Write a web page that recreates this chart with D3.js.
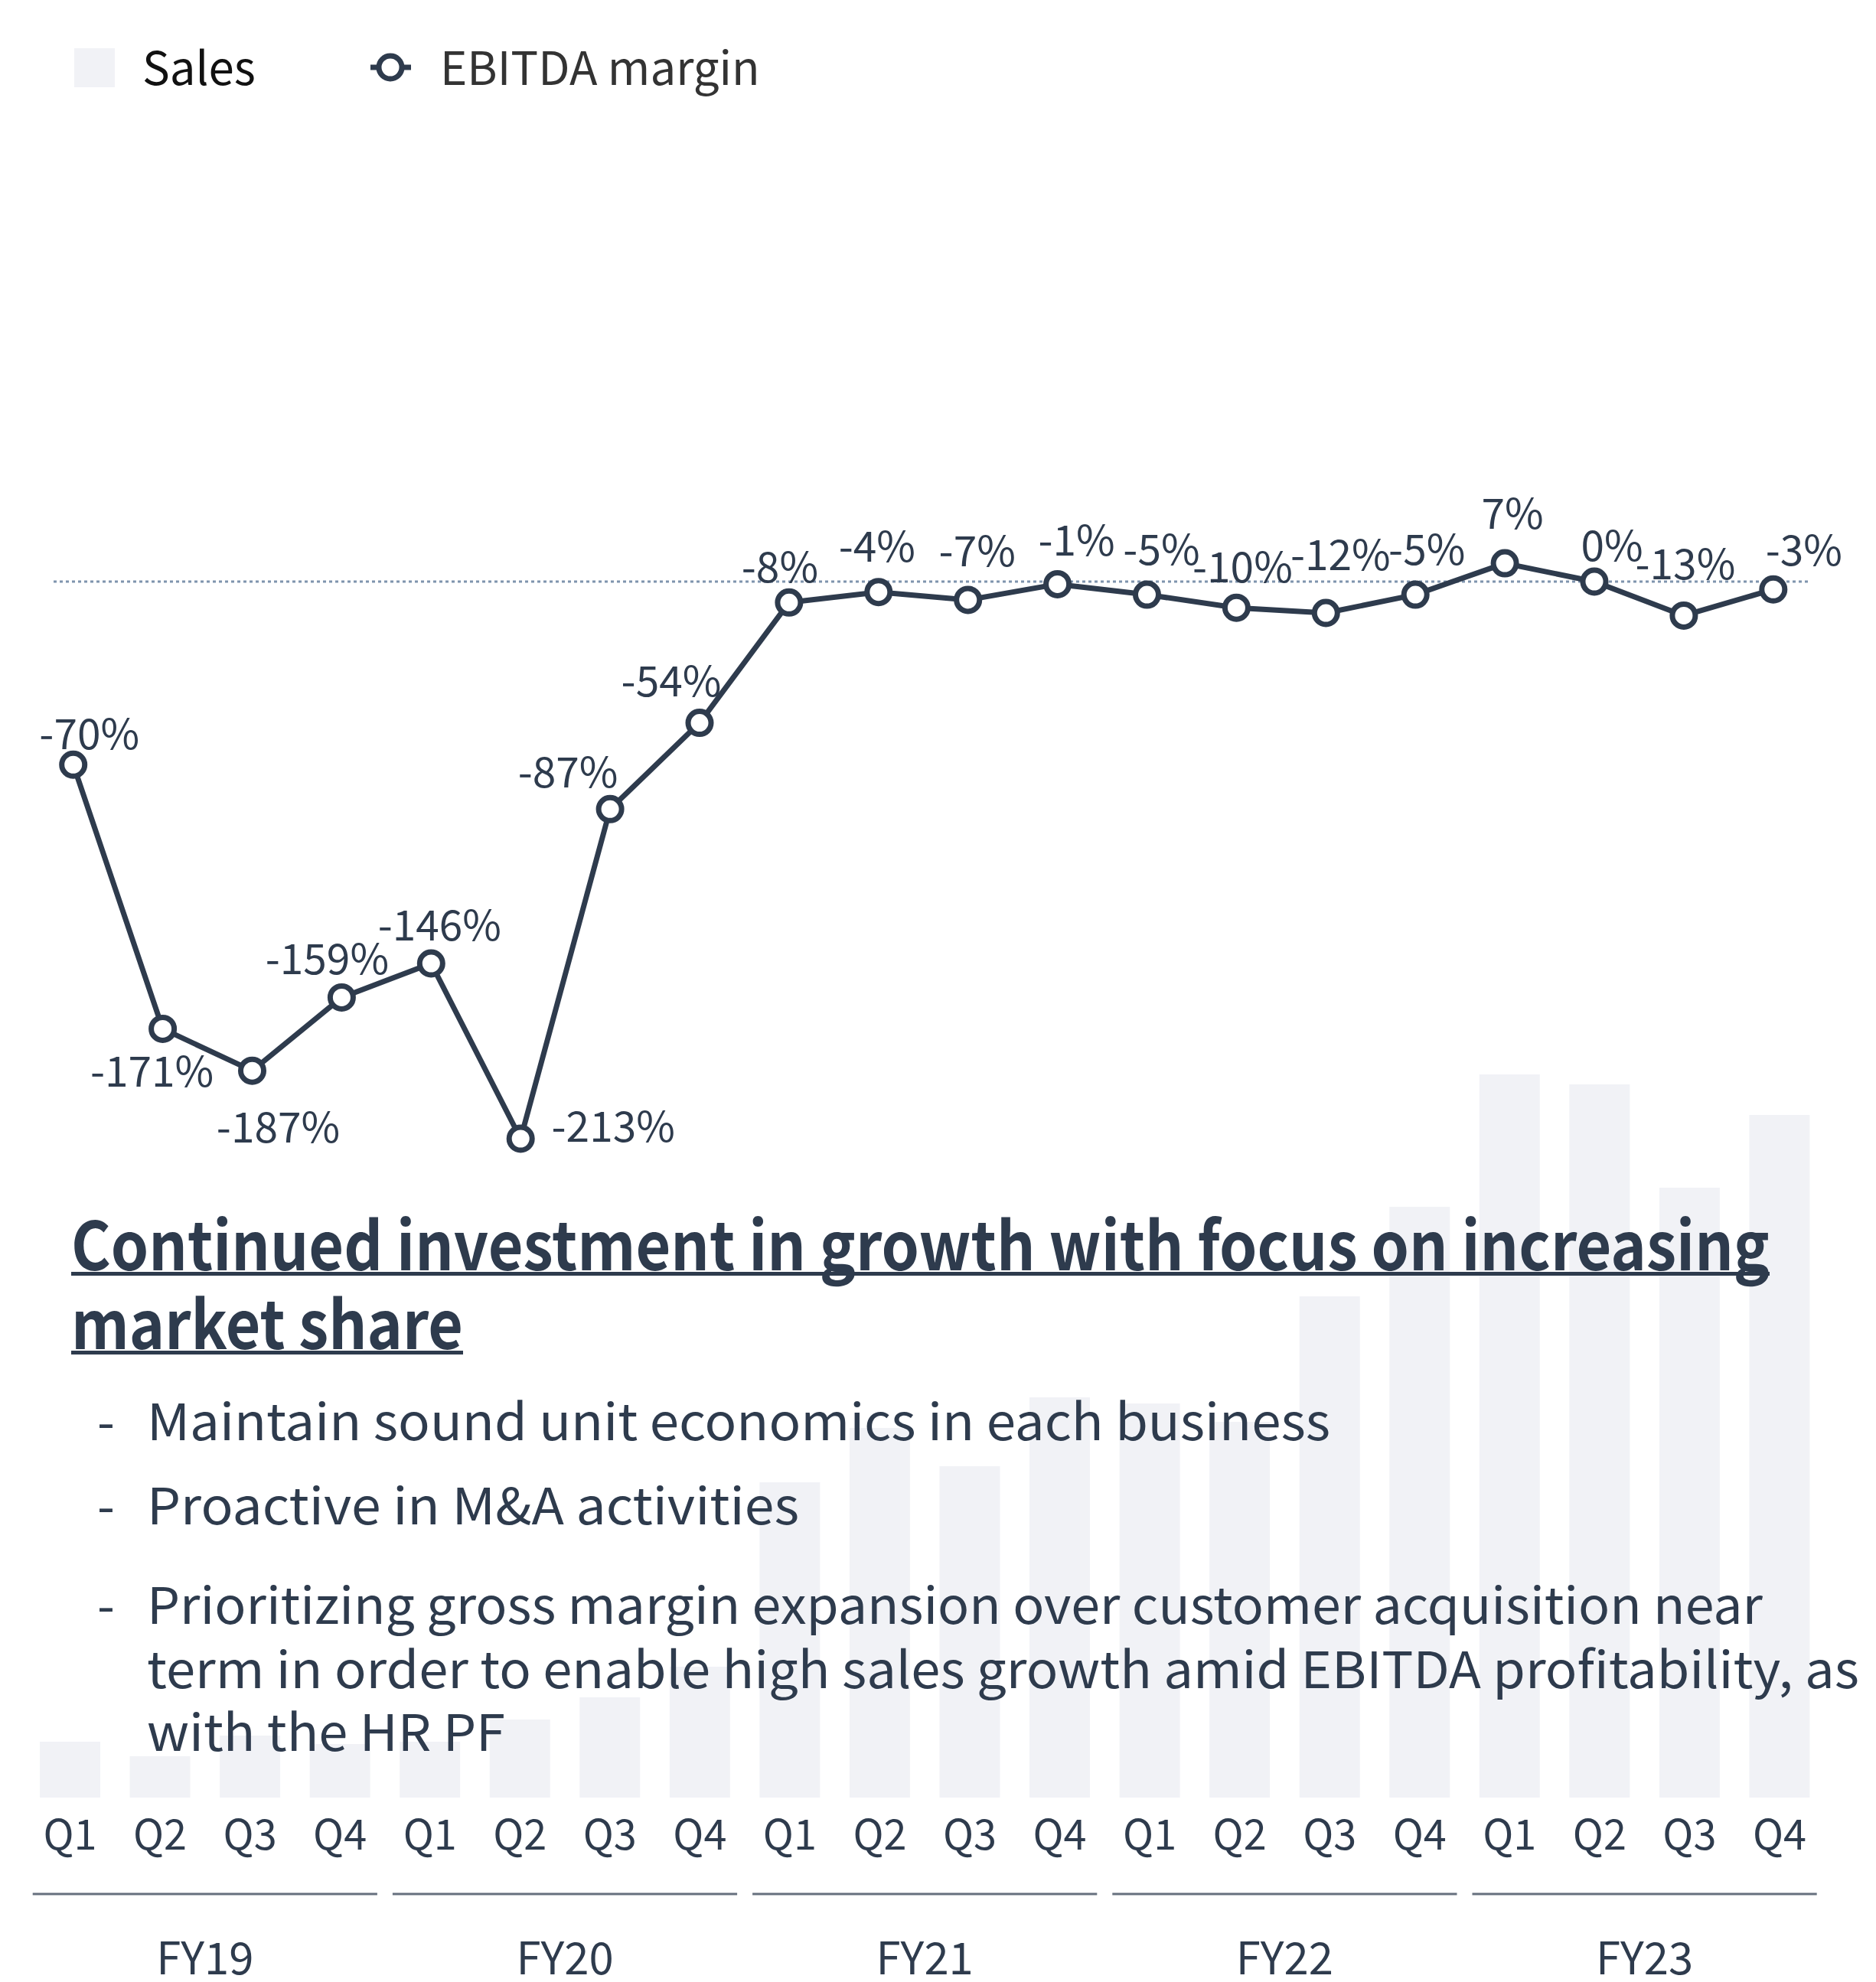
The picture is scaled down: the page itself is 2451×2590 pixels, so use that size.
<!DOCTYPE html>
<html>
<head>
<meta charset="utf-8">
<script src="https://cdn.jsdelivr.net/npm/d3@7"></script>
<style>
  body { margin: 0; background: #ffffff; }
  svg { display: block; }
</style>
</head>
<body>
<svg id="chart" width="2451" height="2590"></svg>
<script>
// ---- data ----
const fiscalYears = ["FY19", "FY20", "FY21", "FY22", "FY23"];
const quarters = ["Q1", "Q2", "Q3", "Q4"];
// quarterly sales (relative index, no axis shown)
const sales = [7.3, 5.4, 8.1, 7.0, 7.3, 10.2, 13.1, 17.1, 41.2, 48.3,
               43.3, 52.3, 51.5, 49.1, 65.5, 77.2, 94.5, 93.2, 79.7, 89.2];
// quarterly EBITDA margin, %
const ebitdaMargin = [-70, -171, -187, -159, -146, -213, -87, -54, -8, -4,
                      -7, -1, -5, -10, -12, -5, 7, 0, -13, -3];
const legendLabels = ["Sales", "EBITDA margin"];
const headline = ["Continued investment in growth with focus on increasing", "market share"];
const bullets = [
  ["Maintain sound unit economics in each business"],
  ["Proactive in M&A activities"],
  ["Prioritizing gross margin expansion over customer acquisition near",
   "term in order to enable high sales growth amid EBITDA profitability, as",
   "with the HR PF"]
];

// ---- layout ----
const FONT = "'Noto Sans CJK JP', 'Noto Sans', sans-serif";
const INK = "#2e3b4d";
const BAR = "#f1f2f6";

const periods = [];
fiscalYears.forEach(fy => quarters.forEach(q => periods.push({ fy, q, key: fy + q })));
const data = periods.map((p, i) => ({ ...p, i, sales: sales[i], margin: ebitdaMargin[i] }));

const svg = d3.select("#chart");

const xBar = d3.scaleBand()
  .domain(data.map(d => d.key))
  .range([32.7, 2383.7])
  .paddingInner(0.328)
  .paddingOuter(0.164);

const xLine = d3.scalePoint()
  .domain(data.map(d => d.key))
  .range([95.7, 2316.8]);

const ySales = d3.scaleLinear().domain([0, 100]).range([2349, 1349]);
const yMargin = d3.scaleLinear().domain([-213, 0]).range([1488, 760]);

// ---- bars ----
svg.append("g").selectAll("rect")
  .data(data)
  .join("rect")
  .attr("x", d => xBar(d.key))
  .attr("width", xBar.bandwidth())
  .attr("y", d => ySales(d.sales))
  .attr("height", d => ySales(0) - ySales(d.sales))
  .attr("fill", BAR);

// ---- quarter axis ----
const xAxis = d3.axisBottom(xBar)
  .tickSize(0)
  .tickPadding(0)
  .tickFormat(k => data.find(d => d.key === k).q);
const axisG = svg.append("g")
  .attr("transform", "translate(0,2417)")
  .call(xAxis);
axisG.select(".domain").remove();
axisG.selectAll("text")
  .attr("dy", 0)
  .attr("y", 0)
  .attr("font-family", FONT)
  .attr("font-size", 54)
  .attr("fill", INK);

// ---- fiscal year groups ----
const yearG = svg.append("g");
fiscalYears.forEach(fy => {
  const keys = data.filter(d => d.fy === fy).map(d => d.key);
  const x0 = xBar(keys[0]) - xBar.step() * xBar.paddingInner() / 2 + 10;
  const x1 = xBar(keys[keys.length - 1]) + xBar.bandwidth() + xBar.step() * xBar.paddingInner() / 2 - 10;
  yearG.append("line")
    .attr("x1", x0).attr("x2", x1)
    .attr("y1", 2475).attr("y2", 2475)
    .attr("stroke", "#66707e").attr("stroke-width", 3);
  yearG.append("text")
    .attr("x", (x0 + x1) / 2).attr("y", 2580)
    .attr("text-anchor", "middle")
    .attr("font-family", FONT).attr("font-size", 58)
    .attr("fill", INK)
    .text(fy);
});

// ---- headline & bullet text ----
const textG = svg.append("g");
const headWidths = [2219, 512];
const headBase = [1660, 1763];
headline.forEach((line, i) => {
  textG.append("text")
    .attr("x", 93).attr("y", headBase[i])
    .attr("font-family", FONT).attr("font-size", 87).attr("font-weight", 700)
    .attr("fill", INK)
    .attr("textLength", headWidths[i]).attr("lengthAdjust", "spacingAndGlyphs")
    .text(line);
  textG.append("rect")
    .attr("x", 93).attr("y", headBase[i] + 2)
    .attr("width", headWidths[i]).attr("height", 5)
    .attr("fill", INK);
});

const bulletBase = [[1882], [1992], [2122, 2206, 2288]];
const bulletWidths = [[1546], [852], [2111, 2237, 468]];
bullets.forEach((item, i) => {
  textG.append("text")
    .attr("x", 127).attr("y", bulletBase[i][0])
    .attr("font-family", FONT).attr("font-size", 66)
    .attr("fill", INK)
    .text("-");
  item.forEach((line, j) => {
    textG.append("text")
      .attr("x", 192).attr("y", bulletBase[i][j])
      .attr("font-family", FONT).attr("font-size", 66)
      .attr("fill", INK)
      .attr("textLength", bulletWidths[i][j]).attr("lengthAdjust", "spacingAndGlyphs")
      .text(line);
  });
});

// ---- zero reference ----
svg.append("line")
  .attr("x1", 70).attr("x2", 2365)
  .attr("y1", yMargin(0)).attr("y2", yMargin(0))
  .attr("stroke", "#7f94ae").attr("stroke-width", 3)
  .attr("stroke-dasharray", "4,4");

// ---- EBITDA margin line ----
const line = d3.line()
  .x(d => xLine(d.key))
  .y(d => yMargin(d.margin));

svg.append("path")
  .datum(data)
  .attr("d", line)
  .attr("fill", "none")
  .attr("stroke", INK)
  .attr("stroke-width", 7)
  .attr("stroke-linejoin", "round");

svg.append("g").selectAll("circle")
  .data(data)
  .join("circle")
  .attr("cx", d => xLine(d.key))
  .attr("cy", d => yMargin(d.margin))
  .attr("r", 15)
  .attr("fill", "#ffffff")
  .attr("stroke", INK)
  .attr("stroke-width", 7);

// label placement around each point (centre offset from the marker)
const labelOffsets = [
  [21, -40], [-14, 56], [34, 74], [-19, -50], [11, -50],
  [121, -16], [-55, -48], [-37, -55], [-12, -46], [-2, -60],
  [12, -64], [25, -57], [19, -59], [8, -53], [19, -76],
  [15, -59], [10, -65], [23, -47], [2, -67], [40, -51]
];

svg.append("g").selectAll("text")
  .data(data)
  .join("text")
  .attr("x", d => xLine(d.key) + labelOffsets[d.i][0])
  .attr("y", d => yMargin(d.margin) + labelOffsets[d.i][1] + 20)
  .attr("text-anchor", "middle")
  .attr("font-family", FONT)
  .attr("font-size", 55)
  .attr("fill", INK)
  .text(d => String(d.margin) + "%");

// ---- legend ----
const legend = svg.append("g");
legend.append("rect")
  .attr("x", 97).attr("y", 63).attr("width", 53).attr("height", 51)
  .attr("fill", BAR);
legend.append("text")
  .attr("x", 186).attr("y", 111)
  .attr("font-family", FONT).attr("font-size", 60)
  .attr("fill", "#111111")
  .text(legendLabels[0]);
legend.append("line")
  .attr("x1", 484).attr("x2", 537).attr("y1", 88).attr("y2", 88)
  .attr("stroke", INK).attr("stroke-width", 7);
legend.append("circle")
  .attr("cx", 510).attr("cy", 88).attr("r", 15)
  .attr("fill", "#ffffff").attr("stroke", INK).attr("stroke-width", 7);
legend.append("text")
  .attr("x", 575).attr("y", 111)
  .attr("font-family", FONT).attr("font-size", 60)
  .attr("fill", "#333333")
  .text(legendLabels[1]);
</script>
</body>
</html>
